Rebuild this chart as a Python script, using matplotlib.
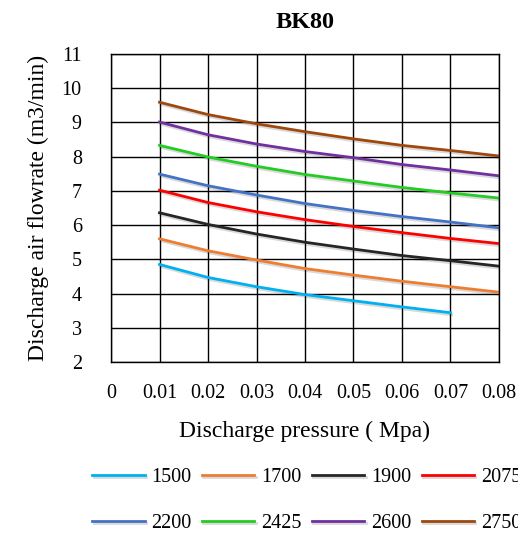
import numpy as np
import matplotlib.pyplot as plt
import matplotlib.patheffects as pe

plt.rcParams['font.family'] = ['Liberation Serif', 'DejaVu Serif']

# pressure (Mpa)
pressure = [0.01, 0.02, 0.03, 0.04, 0.05, 0.06, 0.07, 0.08]

# flowrate per speed (m3/min)
rpm_1500 = [4.85, 4.47, 4.20, 3.97, 3.79, 3.61, 3.44]
rpm_1700 = [5.60, 5.25, 4.98, 4.73, 4.54, 4.36, 4.20, 4.04]
rpm_1900 = [6.36, 6.02, 5.74, 5.50, 5.30, 5.11, 4.96, 4.80]
rpm_2075 = [7.02, 6.66, 6.39, 6.16, 5.96, 5.78, 5.61, 5.46]
rpm_2200 = [7.49, 7.15, 6.88, 6.63, 6.43, 6.25, 6.09, 5.92]
rpm_2425 = [8.33, 7.99, 7.72, 7.48, 7.29, 7.10, 6.94, 6.79]
rpm_2600 = [9.01, 8.64, 8.37, 8.15, 7.97, 7.77, 7.61, 7.44]
rpm_2750 = [9.59, 9.23, 8.96, 8.73, 8.52, 8.33, 8.18, 8.02]

labels = ['1500', '1700', '1900', '2075', '2200', '2425', '2600', '2750']
series = [rpm_1500, rpm_1700, rpm_1900, rpm_2075, rpm_2200, rpm_2425, rpm_2600, rpm_2750]
colors = ['#00b0f0', '#ed7d31', '#262626', '#ff0000', '#4472c4', '#22cc22', '#7030a0', '#9e480e']

fig = plt.figure(figsize=(5.18, 5.34), dpi=100)
ax = fig.add_axes([0.2143, 0.3221, 0.749, 0.5768])

shadow = [pe.SimpleLineShadow(offset=(1, -1.5), alpha=0.15, rho=0.3), pe.Normal()]
lines = []
for vals, lab, c in zip(series, labels, colors):
    l, = ax.plot(pressure[:len(vals)], vals, color=c, lw=2, label=lab, path_effects=shadow)
    lines.append(l)

ax.set_xlim(0, 0.08)
ax.set_ylim(2, 11)
ax.set_xticks(np.arange(0, 0.081, 0.01))
ax.set_xticklabels(['0', '0.01', '0.02', '0.03', '0.04', '0.05', '0.06', '0.07', '0.08'])
ax.set_yticks(range(2, 12))
ax.grid(True, color='black', lw=1)
ax.set_axisbelow(True)
for s in ax.spines.values():
    s.set_color('black')
    s.set_linewidth(1)
ax.tick_params(axis='both', length=0, labelsize=14.5)
ax.tick_params(axis='y', pad=21)
ax.tick_params(axis='x', pad=16)

ax.set_title('BK80', fontsize=17.5, fontweight='bold', pad=19)
ax.set_xlabel('Discharge pressure ( Mpa)', fontsize=17, labelpad=13)
ax.set_ylabel('Discharge air flowrate (m3/min)', fontsize=17, labelpad=9)

# legend fills row by row like the original
order = [0, 4, 1, 5, 2, 6, 3, 7]
fig.legend([lines[i] for i in order], [labels[i] for i in order],
           loc='upper left', bbox_to_anchor=(0.178, 0.123), ncol=4, frameon=False,
           fontsize=14.5, handlelength=2.6, handletextpad=0.35, columnspacing=0.5,
           labelspacing=1.3, borderaxespad=0, borderpad=0)

fig.savefig('out.png', dpi=100)
